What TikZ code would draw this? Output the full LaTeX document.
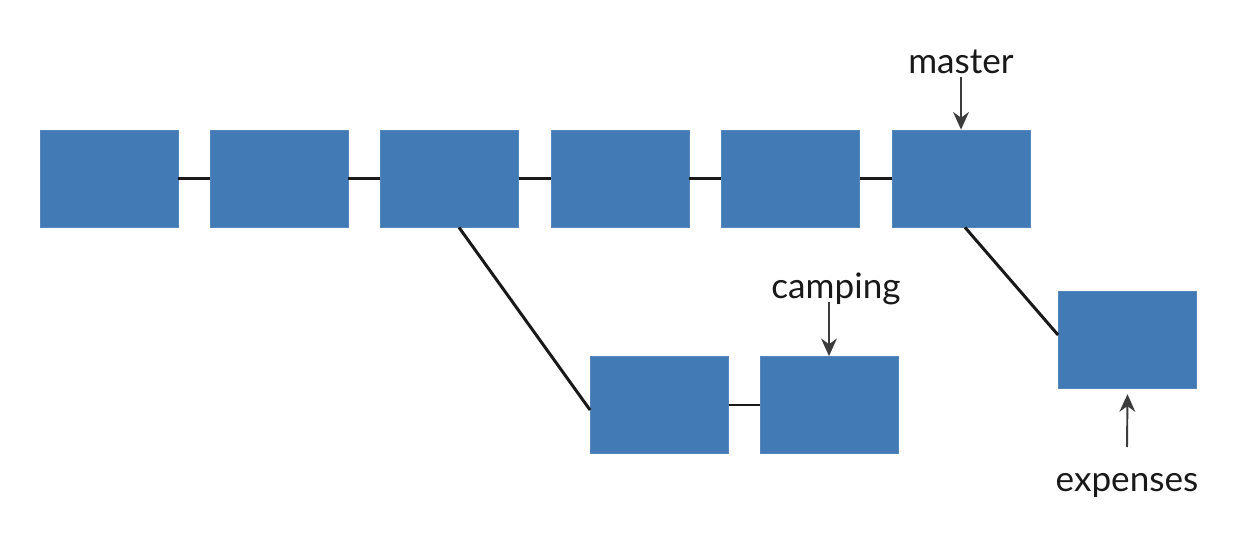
\documentclass[tikz,border=0pt]{standalone}
\usepackage{fontspec}
\setmainfont{Lato}
\usetikzlibrary{arrows.meta,calc}
\definecolor{commit}{RGB}{66,122,181}
\definecolor{ink}{RGB}{25,25,25}
\tikzset{
  commitbox/.style={fill=commit,draw=commit!90!white,line width=0.5pt,minimum width=2.76cm,minimum height=1.94cm,inner sep=0pt},
  link/.style={draw=ink,line width=1.7pt},
  pointer/.style={draw=ink!85,line width=1.1pt,-{Stealth[length=10pt,width=9pt]}},
  lbl/.style={font=\fontsize{20}{24}\selectfont,text=ink,inner sep=0pt}
}
\begin{document}
\begin{tikzpicture}[x=0.02cm,y=-0.02cm]
\fill[white] (0,0) rectangle (1240,554);
\useasboundingbox (0,0) rectangle (1240,554);
\node[commitbox] (b1) at (109,178.5) {};
\node[commitbox] (b2) at (279,178.5) {};
\node[commitbox] (b3) at (449.5,178.5) {};
\node[commitbox] (b4) at (620,178.5) {};
\node[commitbox] (b5) at (790.5,178.5) {};
\node[commitbox] (b6) at (961,178.5) {};
\node[commitbox] (b7) at (659.5,405) {};
\node[commitbox] (b8) at (829.5,405) {};
\node[commitbox] (b9) at (1127.5,340) {};
\draw[link] (b1) -- (b2);
\draw[link] (b2) -- (b3);
\draw[link] (b3) -- (b4);
\draw[link] (b4) -- (b5);
\draw[link] (b5) -- (b6);
\draw[link] (b7) -- (b8);
\draw[link] ([xshift=0.19cm]b3.south) -- ([yshift=-0.1cm]b7.west);
\draw[link] ([xshift=0.08cm]b6.south) -- ([yshift=0.1cm]b9.west);
\node[lbl] (master) at (961,62) {master};
\node[lbl] (camping) at (836,289) {camping};
\node[lbl] (expenses) at (1127,485) {expenses};
\coordinate (mt) at (961,77);
\coordinate (ct) at (829,302);
\coordinate (et) at (1127,447);
\draw[pointer] (mt) -- (b6.north);
\draw[pointer] (ct) -- (b8.north -| ct);
\draw[pointer] (et) -- ([yshift=-3pt]b9.south);
\end{tikzpicture}
\end{document}
